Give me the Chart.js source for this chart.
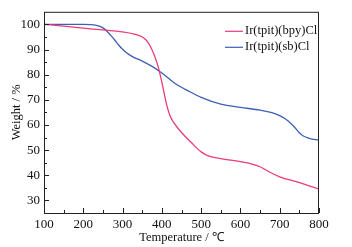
<!DOCTYPE html>
<html lang="en">
<head>
  <meta charset="UTF-8" />
  <title>TGA curves</title>
  <script src="https://cdn.jsdelivr.net/npm/chart.js"></script>
  <style>
    html, body { margin: 0; padding: 0; background: #fff; }
    .wrap { width: 352px; height: 247px; }
  </style>
</head>
<body>
  <div class="wrap"><canvas id="tga" width="352" height="247"></canvas></div>
  <script>
    // temperatures (°C) and weight (%)
    const tempBpy  = [100, 150, 200, 250, 300, 330, 350, 360, 370, 380, 390, 400, 410, 420, 430, 450, 475, 500, 520, 550, 600, 630, 650, 675, 700, 750, 800];
    const weightBpy = [100, 99.3, 98.5, 97.8, 97.0, 96.1, 95.0, 93.8, 91.5, 88, 83.5, 77, 69.5, 64, 61, 57, 53, 49.3, 47.6, 46.6, 45.4, 44.4, 43.4, 41.2, 39.4, 37.1, 34.5];

    const tempSb   = [100, 150, 200, 220, 240, 250, 260, 270, 280, 290, 300, 310, 325, 350, 375, 400, 430, 470, 500, 550, 600, 650, 680, 700, 720, 735, 750, 760, 775, 800];
    const weightSb = [100, 100, 100, 99.9, 99.3, 98.6, 97.3, 95.6, 93.8, 91.8, 90.1, 88.7, 87.2, 85.4, 83.3, 80.7, 76.9, 73.3, 71, 68.3, 67, 65.9, 64.9, 63.7, 61.8, 59.6, 56.9, 55.6, 54.7, 53.9];

    const seriesLabels = ["Ir(tpit)(bpy)Cl", "Ir(tpit)(sb)Cl"];
    const seriesColors = ["#ec3a7c", "#3c60b4"];

    const font = "'Liberation Serif', 'Times New Roman', serif";

    function pts(xs, ys) {
      return xs.map((x, i) => ({ x: x, y: ys[i] }));
    }

    // frame, inward ticks (major and minor) and the line legend
    const frameTicks = {
      id: 'frameTicks',
      afterDraw(chart) {
        const { ctx, chartArea: a, scales } = chart;
        ctx.save();
        ctx.strokeStyle = '#222';
        ctx.lineWidth = 1;
        ctx.strokeRect(a.left + 0.5, a.top + 0.5, a.right - a.left - 1, a.bottom - a.top);
        ctx.beginPath();
        for (let v = 100; v <= 800; v += 50) {
          const px = Math.round(scales.x.getPixelForValue(v)) + 0.5;
          const len = v % 100 === 0 ? 5 : 3;
          ctx.moveTo(px, a.bottom);
          ctx.lineTo(px, a.bottom - len);
        }
        for (let v = 30; v <= 100; v += 5) {
          const py = Math.round(scales.y.getPixelForValue(v)) + 0.5;
          const len = v % 10 === 0 ? 5 : 3;
          ctx.moveTo(a.left, py);
          ctx.lineTo(a.left + len, py);
        }
        ctx.stroke();

        // legend, top right inside the plot
        ctx.font = '12.5px ' + font;
        ctx.textAlign = 'left';
        ctx.textBaseline = 'middle';
        chart.data.datasets.forEach((ds, i) => {
          const y = a.top + 19 + i * 16;
          const x0 = a.right - 94;
          ctx.strokeStyle = ds.borderColor;
          ctx.lineWidth = 1.2;
          ctx.beginPath();
          ctx.moveTo(x0, y + 0.5);
          ctx.lineTo(x0 + 18, y + 0.5);
          ctx.stroke();
          ctx.fillStyle = '#111';
          ctx.fillText(ds.label, x0 + 20, y);
        });
        ctx.restore();
      }
    };

    new Chart(document.getElementById('tga'), {
      type: 'line',
      data: {
        datasets: [
          { label: seriesLabels[0], data: pts(tempBpy, weightBpy), borderColor: seriesColors[0], backgroundColor: seriesColors[0] },
          { label: seriesLabels[1], data: pts(tempSb, weightSb), borderColor: seriesColors[1], backgroundColor: seriesColors[1] }
        ]
      },
      options: {
        responsive: false,
        animation: false,
        layout: { padding: { top: 10, right: 33, left: 9, bottom: 0 } },
        elements: {
          point: { radius: 0 },
          line: { borderWidth: 1.3, tension: 0.4, cubicInterpolationMode: 'monotone' }
        },
        scales: {
          x: {
            type: 'linear',
            min: 100, max: 800,
            grid: { display: false, drawTicks: false },
            border: { display: false },
            ticks: { stepSize: 100, color: '#111', padding: 4, font: { family: font, size: 13 } },
            title: { display: true, text: 'Temperature / ℃', color: '#111', padding: { top: 0, bottom: 2 }, font: { family: font, size: 12.5 } },
            afterFit(s) { s.height = 34; }
          },
          y: {
            min: 25, max: 105,
            grid: { display: false, drawTicks: false },
            border: { display: false },
            ticks: {
              color: '#111', padding: 4, font: { family: font, size: 13 },
              stepSize: 10,
              callback: v => (v >= 30 && v <= 100 && v % 10 === 0) ? v : ''
            },
            afterBuildTicks(s) {
              s.ticks = [30, 40, 50, 60, 70, 80, 90, 100].map(v => ({ value: v }));
            },
            title: { display: true, text: 'Weight / %', color: '#111', padding: { top: 0, bottom: 2 }, font: { family: font, size: 12.5 } },
            afterFit(s) { s.width = 35; }
          }
        },
        plugins: {
          legend: { display: false },
          tooltip: { enabled: false }
        }
      },
      plugins: [frameTicks]
    });
  </script>
</body>
</html>
